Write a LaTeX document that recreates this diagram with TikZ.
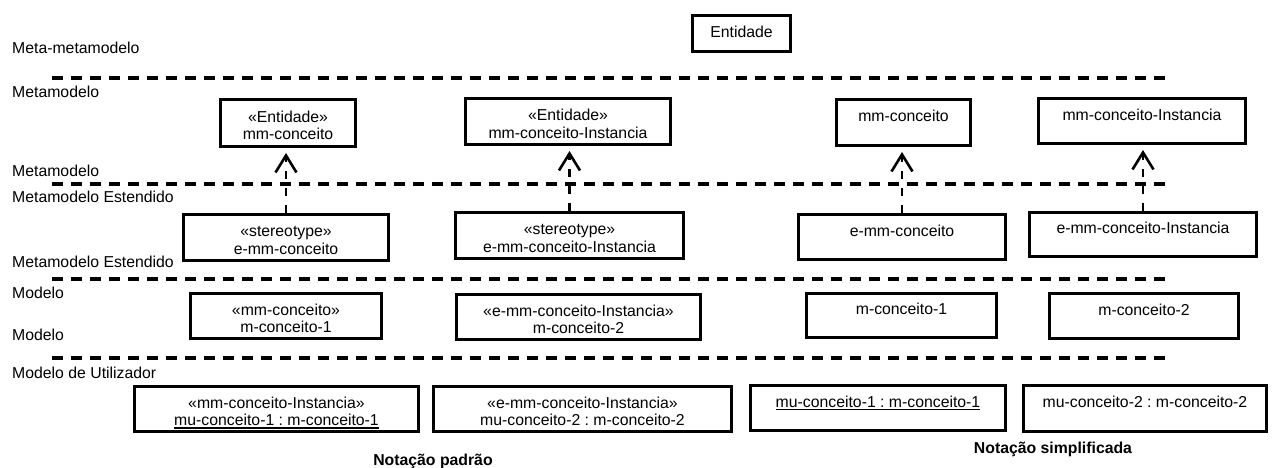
\documentclass[tikz,border=0pt]{standalone}
\usepackage{fontspec}
\setmainfont{Liberation Sans}
\usetikzlibrary{arrows.meta}
\frenchspacing

% underlined text with a firm rule just below the baseline
\newcommand\ulined[1]{\setbox0\hbox{#1}\rlap{\rule[-2.8pt]{\wd0}{1.2pt}}\box0}
% two lines of a class box (second one may be empty); the padding rule
% keeps the first line a little below the box centre
\newcommand\twolines[2]{\begin{tabular}{@{}c@{}}\rule{0pt}{21.5pt}#1\\\mbox{}#2\end{tabular}}

\begin{document}
\begin{tikzpicture}[x=1pt,y=-1pt,
  every node/.style={inner sep=0pt, font=\fontsize{15.8}{17.5}\selectfont},
  umlbox/.style={draw, line width=2.6pt, rectangle, align=center},
  layerlabel/.style={anchor=base west},
  caption/.style={anchor=base, font=\fontsize{15.8}{17.5}\selectfont\bfseries},
  separator/.style={line width=3.2pt, dash pattern=on 11pt off 8pt},
  dep/.style={line width=2.6pt, dash pattern=on 8pt off 9pt,
    -{Straight Barb[length=17pt,width=21pt]}, shorten >=5pt}]

\useasboundingbox (0,0) rectangle (1272,468);

% layer names on the left
\node[layerlabel] (l1) at (12,54)  {Meta-metamodelo};
\node[layerlabel] (l2) at (12,98)  {Metamodelo};
\node[layerlabel] (l3) at (12,176) {Metamodelo};
\node[layerlabel] (l4) at (12,202) {Metamodelo Estendido};
\node[layerlabel] (l5) at (12,267) {Metamodelo Estendido};
\node[layerlabel] (l6) at (12,298) {Modelo};
\node[layerlabel] (l7) at (12,340) {Modelo};
\node[layerlabel] (l8) at (12,378) {Modelo de Utilizador};

% layer separators
\foreach \yy/\nm in {78/a,184/b,279/c,358/d}{
  \coordinate (sep\nm-w) at (52,\yy);
  \coordinate (sep\nm-e) at (1171,\yy);
  \draw[separator] (sep\nm-w) -- (sep\nm-e);
}

% meta-metamodel
\node[umlbox, minimum width=98.4pt, minimum height=36.4pt, text depth=4pt] (ent) at (741.5,33.5) {Entidade};

% metamodel
\node[umlbox, minimum width=135.4pt, minimum height=47.4pt] (r1c1) at (288,123)
  {\twolines{«Entidade»}{mm-conceito}};
\node[umlbox, minimum width=205.4pt, minimum height=46.4pt] (r1c2) at (568,121.5)
  {\twolines{«Entidade»}{mm-conceito-Instancia}};
\node[umlbox, minimum width=134.4pt, minimum height=46.4pt] (r1c3) at (903.5,122.5)
  {\twolines{mm-conceito}{}};
\node[umlbox, minimum width=207.4pt, minimum height=45.4pt] (r1c4) at (1142,121)
  {\twolines{mm-conceito-Instancia}{}};

% extended metamodel
\node[umlbox, minimum width=205.4pt, minimum height=46.4pt] (r2c1) at (286,237.5)
  {\twolines{«stereotype»}{e-mm-conceito}};
\node[umlbox, minimum width=228.4pt, minimum height=46.4pt] (r2c2) at (569.5,235.5)
  {\twolines{«stereotype»}{e-mm-conceito-Instancia}};
\node[umlbox, minimum width=207.4pt, minimum height=45.4pt] (r2c3) at (902,237)
  {\twolines{e-mm-conceito}{}};
\node[umlbox, minimum width=227.4pt, minimum height=44.4pt] (r2c4) at (1143,234.5)
  {\twolines{e-mm-conceito-Instancia}{}};

% model
\node[umlbox, minimum width=191.4pt, minimum height=45.4pt] (r3c1) at (286,316)
  {\twolines{«mm-conceito»}{m-conceito-1}};
\node[umlbox, minimum width=244.4pt, minimum height=45.4pt] (r3c2) at (578.5,317)
  {\twolines{«e-mm-conceito-Instancia»}{m-conceito-2}};
\node[umlbox, minimum width=190.4pt, minimum height=44.4pt] (r3c3) at (901.5,315.5)
  {\twolines{m-conceito-1}{}};
\node[umlbox, minimum width=189.4pt, minimum height=45.4pt] (r3c4) at (1144,316)
  {\twolines{m-conceito-2}{}};

% user model
\node[umlbox, minimum width=284.4pt, minimum height=45.4pt] (r4c1) at (276.5,409)
  {\twolines{«mm-conceito-Instancia»}{\ulined{mu-conceito-1 : m-conceito-1}}};
\node[umlbox, minimum width=298.4pt, minimum height=45.4pt] (r4c2) at (582.5,409)
  {\twolines{«e-mm-conceito-Instancia»}{mu-conceito-2 : m-conceito-2}};
\node[umlbox, minimum width=255.4pt, minimum height=45.4pt] (r4c3) at (878,408)
  {\twolines{\ulined{mu-conceito-1 : m-conceito-1}}{}};
\node[umlbox, minimum width=243.4pt, minimum height=46.4pt] (r4c4) at (1145,408.5)
  {\twolines{mu-conceito-2 : m-conceito-2}{}};

% extension dependencies
\foreach \c in {c1,c2,c3,c4}{
  \draw[dep] (r2\c.north) -- (r2\c.north |- r1\c.south);
}

% notation captions
\node[caption] (cap1) at (433,465)  {Notação padrão};
\node[caption] (cap2) at (1053,453) {Notação simplificada};

\end{tikzpicture}
\end{document}
